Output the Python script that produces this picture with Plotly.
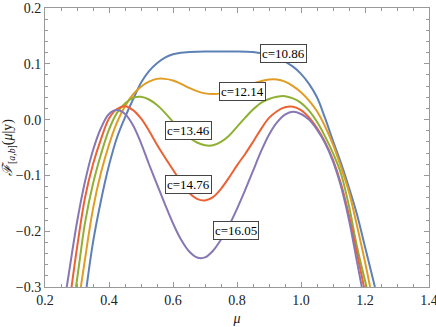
import plotly.graph_objects as go

# values
labels = ["c=10.86", "c=12.14", "c=13.46", "c=14.76", "c=16.05"]
colors = ["#5E81B5", "#E19C24", "#8FB032", "#EB6235", "#8778B3"]

mu_1086 = [0.330, 0.35, 0.375, 0.40, 0.425, 0.45, 0.475, 0.50, 0.525, 0.55, 0.575, 0.60, 0.625, 0.65, 0.70,
           0.75, 0.80, 0.85, 0.875, 0.90, 0.925, 0.95, 0.975, 1.00, 1.025, 1.05, 1.075, 1.10, 1.125, 1.15,
           1.175, 1.20, 1.231]
f_1086 = [-0.300, -0.220, -0.145, -0.082, -0.032, 0.004, 0.036, 0.066, 0.087, 0.101, 0.111, 0.117, 0.120, 0.121, 0.122,
          0.122, 0.122, 0.121, 0.119, 0.116, 0.111, 0.104, 0.095, 0.082, 0.064, 0.040, 0.003, -0.038, -0.078, -0.122,
          -0.170, -0.228, -0.300]

mu_1214 = [0.312, 0.325, 0.35, 0.375, 0.40, 0.425, 0.45, 0.475, 0.50, 0.525, 0.55, 0.575, 0.60, 0.625, 0.65,
           0.675, 0.70, 0.725, 0.75, 0.775, 0.80, 0.825, 0.85, 0.875, 0.90, 0.925, 0.95, 0.975, 1.00, 1.025,
           1.05, 1.075, 1.10, 1.125, 1.15, 1.175, 1.20, 1.216]
f_1214 = [-0.300, -0.250, -0.160, -0.095, -0.045, -0.005, 0.024, 0.045, 0.059, 0.068, 0.073, 0.073, 0.070, 0.064, 0.057,
          0.051, 0.047, 0.046, 0.047, 0.050, 0.055, 0.060, 0.065, 0.069, 0.072, 0.072, 0.068, 0.060, 0.049, 0.034,
          0.015, -0.012, -0.045, -0.085, -0.130, -0.190, -0.255, -0.300]

mu_1346 = [0.297, 0.31, 0.325, 0.35, 0.375, 0.40, 0.425, 0.45, 0.475, 0.50, 0.525, 0.55, 0.575, 0.60, 0.625,
           0.65, 0.675, 0.70, 0.725, 0.75, 0.775, 0.80, 0.825, 0.85, 0.875, 0.90, 0.925, 0.95, 0.975, 1.00,
           1.025, 1.05, 1.075, 1.10, 1.125, 1.15, 1.175, 1.205]
f_1346 = [-0.300, -0.245, -0.185, -0.115, -0.062, -0.018, 0.012, 0.029, 0.039, 0.041, 0.036, 0.026, 0.012, -0.004, -0.019,
          -0.032, -0.041, -0.046, -0.046, -0.040, -0.029, -0.013, 0.003, 0.018, 0.030, 0.037, 0.041, 0.042, 0.038, 0.030,
          0.016, -0.004, -0.030, -0.060, -0.097, -0.155, -0.228, -0.300]

mu_1476 = [0.283, 0.30, 0.325, 0.35, 0.375, 0.40, 0.425, 0.45, 0.475, 0.50, 0.525, 0.55, 0.575, 0.60, 0.625,
           0.65, 0.675, 0.70, 0.725, 0.75, 0.775, 0.80, 0.825, 0.85, 0.875, 0.90, 0.925, 0.95, 0.975, 1.00,
           1.025, 1.05, 1.075, 1.10, 1.125, 1.15, 1.175, 1.197]
f_1476 = [-0.300, -0.230, -0.140, -0.080, -0.035, 0.002, 0.019, 0.024, 0.017, 0.002, -0.020, -0.045, -0.068, -0.090, -0.112,
          -0.131, -0.142, -0.145, -0.139, -0.124, -0.104, -0.082, -0.062, -0.040, -0.017, 0.003, 0.015, 0.022, 0.023, 0.017,
          0.004, -0.015, -0.040, -0.072, -0.115, -0.172, -0.240, -0.300]

mu_1605 = [0.268, 0.275, 0.30, 0.325, 0.35, 0.375, 0.40, 0.425, 0.45, 0.475, 0.50, 0.525, 0.55, 0.575, 0.60,
           0.625, 0.65, 0.675, 0.70, 0.725, 0.75, 0.775, 0.80, 0.825, 0.85, 0.875, 0.90, 0.925, 0.95, 0.975,
           1.00, 1.025, 1.05, 1.075, 1.10, 1.125, 1.15, 1.175, 1.19]
f_1605 = [-0.300, -0.274, -0.184, -0.111, -0.055, -0.015, 0.010, 0.017, 0.010, -0.010, -0.042, -0.080, -0.116, -0.152, -0.186,
          -0.215, -0.236, -0.247, -0.247, -0.235, -0.215, -0.190, -0.160, -0.127, -0.092, -0.057, -0.027, -0.005, 0.009, 0.014,
          0.010, 0.000, -0.018, -0.042, -0.075, -0.120, -0.180, -0.255, -0.300]

label_mu = [0.944, 0.817, 0.647, 0.647, 0.797]
label_f = [0.119, 0.051, -0.020, -0.116, -0.199]

curves = [(mu_1086, f_1086), (mu_1214, f_1214), (mu_1346, f_1346), (mu_1476, f_1476), (mu_1605, f_1605)]

fig = go.Figure()
for (mu, f), col in zip(curves, colors):
    fig.add_trace(go.Scatter(x=mu, y=f, mode="lines",
                             line=dict(color=col, width=2, shape="spline", smoothing=1.0),
                             showlegend=False, hoverinfo="skip"))

for txt, x, y in zip(labels, label_mu, label_f):
    fig.add_annotation(x=x, y=y, text=txt, showarrow=False,
                       font=dict(family="Liberation Serif", size=13, color="black"),
                       bgcolor="white", bordercolor="#444", borderwidth=1, borderpad=1)

serif = dict(family="Liberation Serif", size=14, color="#222")
frame = dict(showline=True, linecolor="#999", linewidth=1, mirror="allticks",
             ticks="inside", tickcolor="#999", ticklen=5, showgrid=False, zeroline=False,
             tickfont=serif, automargin=False, ticklabeloverflow="allow")

fig.update_xaxes(range=[0.2, 1.4], dtick=0.2, tickformat=".1f",
                 minor=dict(dtick=0.05, ticks="inside", ticklen=3, tickcolor="#999"),
                 title=dict(text="<i>μ</i>", font=serif, standoff=6),
                 **frame)
fig.update_yaxes(range=[-0.3, 0.2], dtick=0.1, tickformat=".1f",
                 minor=dict(dtick=0.02, ticks="inside", ticklen=3, tickcolor="#999"),
                 title=dict(text="<i>ℱ</i><sub>[<i>a</i>,<i>b</i>]</sub>(<i>μ</i>|y)",
                            font=serif, standoff=3),
                 **frame)

fig.update_layout(width=436, height=327, margin=dict(l=45, r=7, t=8, b=40),
                  font=dict(family="Liberation Serif"),
                  plot_bgcolor="white", paper_bgcolor="white")

# the page's default body margin would push the figure off the 436x327 window
fig.write_html("out.html", config={"displayModeBar": False},
               post_script="document.body.style.margin = '0';")
